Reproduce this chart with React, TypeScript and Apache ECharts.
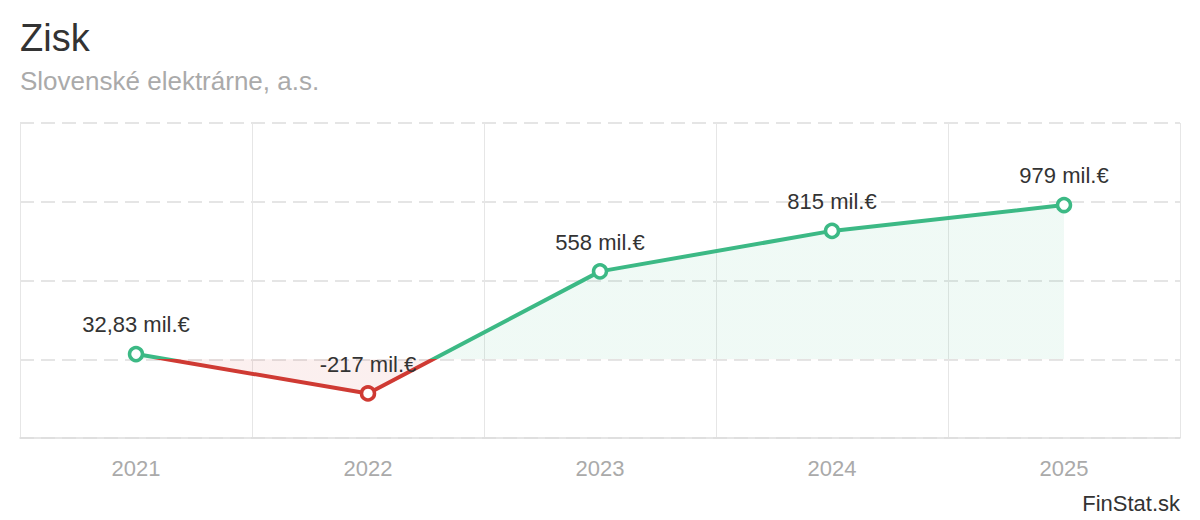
import React, { useEffect, useRef } from "react";
import * as echarts from "echarts";

const years = ["2021", "2022", "2023", "2024", "2025"];
const profit = [32.83, -217, 558, 815, 979];
const yTicks = { min: -500, max: 1500, interval: 500 };
const titleText = "Zisk";
const subtitleText = "Slovenské elektrárne, a.s.";
const sourceText = "FinStat.sk";
const unit = " mil.€";

const GREEN = "#3cb985";
const RED = "#cf3a33";
const FONT = "'Liberation Sans', Arial, sans-serif";

function fmt(v: number): string {
  const s = Math.abs(v) < 100 ? v.toFixed(2).replace(".", ",") : String(Math.round(v));
  return s + unit;
}

export default function App() {
  const ref = useRef<HTMLDivElement>(null);
  useEffect(() => {
    if (!ref.current) return;
    const chart = echarts.init(ref.current, undefined, { renderer: "svg" });
    const pointData = profit.map((v) => ({
      value: v,
      itemStyle: { borderColor: v > 0 ? GREEN : RED },
    }));
    chart.setOption({
      animation: false,
      backgroundColor: "#ffffff",
      textStyle: { fontFamily: FONT },
      title: [
        {
          text: titleText,
          left: 20,
          top: 19,
          padding: 0,
          textStyle: { fontSize: 38, fontWeight: "normal", color: "#333333", fontFamily: FONT },
        },
        {
          text: subtitleText,
          left: 20,
          top: 68,
          padding: 0,
          textStyle: { fontSize: 26, fontWeight: "normal", color: "#aaaaaa", fontFamily: FONT },
        },
      ],
      grid: { left: 20, right: 20, top: 123, bottom: 82, containLabel: false },
      xAxis: {
        type: "category",
        data: years,
        boundaryGap: true,
        axisLine: { show: true, onZero: false, lineStyle: { color: "#dddddd", width: 1.5 } },
        axisTick: { show: false },
        axisLabel: { color: "#aaaaaa", fontSize: 22, margin: 19, fontFamily: FONT },
        splitLine: { show: true, lineStyle: { color: "#e6e6e6", width: 1, type: "solid" } },
      },
      yAxis: {
        type: "value",
        min: yTicks.min,
        max: yTicks.max,
        interval: yTicks.interval,
        axisLine: { show: false },
        axisTick: { show: false },
        axisLabel: { show: false },
        splitLine: { show: true, lineStyle: { color: "#dddddd", width: 1.5, type: [14, 7] } },
      },
      visualMap: {
        show: false,
        type: "piecewise",
        dimension: 1,
        seriesIndex: 0,
        pieces: [
          { gt: 0, lte: 100000, color: GREEN },
          { gte: -100000, lte: 0, color: RED },
        ],
        outOfRange: { color: GREEN },
      },
      series: [
        {
          type: "line",
          data: profit,
          symbol: "none",
          lineStyle: { width: 4 },
          areaStyle: { opacity: 0.08 },
          z: 2,
        },
        {
          type: "scatter",
          data: pointData,
          symbol: "circle",
          symbolSize: 13,
          itemStyle: { color: "#ffffff", borderWidth: 3.5, opacity: 1 },
          z: 3,
          label: {
            show: true,
            position: "top",
            distance: 10,
            color: "#333333",
            fontSize: 22,
            fontFamily: FONT,
            formatter: (p: any) => fmt(p.value),
          },
        },
      ],
      graphic: [
        {
          type: "text",
          right: 20,
          bottom: 6,
          style: { text: sourceText, fontSize: 22, fill: "#333333", fontFamily: FONT },
        },
      ],
    });
    return () => chart.dispose();
  }, []);
  return (
    <div
      ref={ref}
      style={{ position: "absolute", left: 0, top: 0, width: 1200, height: 520 }}
    />
  );
}
